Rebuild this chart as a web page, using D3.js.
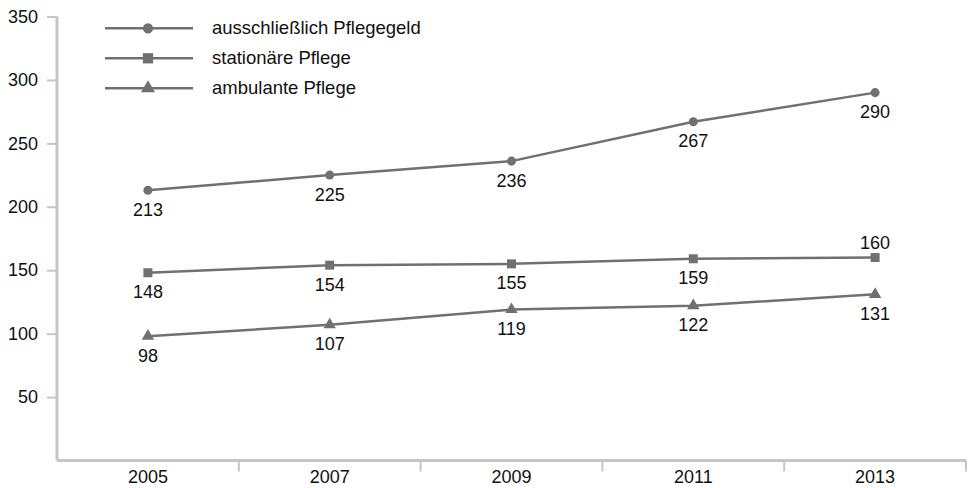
<!DOCTYPE html>
<html>
<head>
<meta charset="utf-8">
<script src="https://cdn.jsdelivr.net/npm/d3@7"></script>
<style>
  body { margin: 0; background: #fff; }
  text { font-family: "Liberation Sans", Arial, sans-serif; }
</style>
</head>
<body>
<svg width="973" height="488"></svg>
<script>
var years = ["2005", "2007", "2009", "2011", "2013"];
var seriesNames = ["ausschließlich Pflegegeld", "stationäre Pflege", "ambulante Pflege"];
var pflegegeld = [213, 225, 236, 267, 290];
var stationaer = [148, 154, 155, 159, 160];
var ambulant = [98, 107, 119, 122, 131];
var yTicks = [50, 100, 150, 200, 250, 300, 350];

var allSeries = [pflegegeld, stationaer, ambulant];
var symbols = [d3.symbolCircle, d3.symbolSquare, d3.symbolTriangle];
var symSizes = [64, 81, 66];
// labels above the point only for the last stationaer value
var above = [[0,0,0,0,0],[0,0,0,0,1],[0,0,0,0,0]];

var svg = d3.select("svg"),
    margin = {top: 16.5, right: 7, bottom: 27.5, left: 57},
    width = +svg.attr("width") - margin.left - margin.right,
    height = +svg.attr("height") - margin.top - margin.bottom;

var x = d3.scaleBand().domain(years).range([0, width]);
var y = d3.scaleLinear().domain([0, 350]).range([height, 0]);

var g = svg.append("g")
    .attr("transform", "translate(" + margin.left + "," + margin.top + ")");

var axisColor = "#c6c6c6";
var lineColor = "#707070";

// y axis
var yAxis = g.append("g").call(d3.axisLeft(y).tickValues(yTicks).tickSize(10).tickPadding(9));
yAxis.select(".domain").remove();
yAxis.selectAll(".tick line").attr("stroke", axisColor).attr("stroke-width", 2);
yAxis.selectAll(".tick text").attr("fill", "#111").style("font-size", "18px");
g.append("line")
    .attr("x1", 0).attr("x2", 0)
    .attr("y1", y(350)).attr("y2", height)
    .attr("stroke", axisColor).attr("stroke-width", 3);

// x axis
var xAxis = g.append("g")
    .attr("transform", "translate(0," + height + ")")
    .call(d3.axisBottom(x).tickSize(0).tickPadding(10));
xAxis.select(".domain").remove();
xAxis.selectAll(".tick text").attr("fill", "#111").style("font-size", "18px");
g.append("line")
    .attr("x1", 0).attr("x2", width)
    .attr("y1", height).attr("y2", height)
    .attr("stroke", axisColor).attr("stroke-width", 3);
var bounds = years.slice(1).map(function (d) { return x(d); }).concat([width]);
g.selectAll(".xsep")
    .data(bounds)
    .enter().append("line")
    .attr("x1", function (d) { return d; })
    .attr("x2", function (d) { return d; })
    .attr("y1", height).attr("y2", height + 11)
    .attr("stroke", axisColor).attr("stroke-width", 2);

function cx(i) { return x(years[i]) + x.bandwidth() / 2; }

var line = d3.line()
    .x(function (d, i) { return cx(i); })
    .y(function (d) { return y(d); });

allSeries.forEach(function (s, k) {
    g.append("path")
        .datum(s)
        .attr("fill", "none")
        .attr("stroke", lineColor)
        .attr("stroke-width", 2.5)
        .attr("d", line);

    g.selectAll(".pt" + k)
        .data(s)
        .enter().append("path")
        .attr("transform", function (d, i) { return "translate(" + cx(i) + "," + y(d) + ")"; })
        .attr("d", d3.symbol().type(symbols[k]).size(symSizes[k]))
        .attr("fill", lineColor);

    g.selectAll(".lbl" + k)
        .data(s)
        .enter().append("text")
        .attr("x", function (d, i) { return cx(i); })
        .attr("y", function (d, i) { return above[k][i] ? y(d) - 9 : y(d) + 25.5; })
        .attr("text-anchor", "middle")
        .attr("fill", "#111")
        .style("font-size", "18px")
        .text(function (d) { return d; });
});

// legend
var legend = svg.append("g");
seriesNames.forEach(function (name, k) {
    var ly = 28.3 + k * 30;
    legend.append("line")
        .attr("x1", 105).attr("x2", 193)
        .attr("y1", ly).attr("y2", ly)
        .attr("stroke", lineColor).attr("stroke-width", 2.5);
    legend.append("path")
        .attr("transform", "translate(148," + ly + ")")
        .attr("d", d3.symbol().type(symbols[k]).size(symSizes[k] * 1.3))
        .attr("fill", lineColor);
    legend.append("text")
        .attr("x", 212).attr("y", ly + 5.5)
        .attr("fill", "#111")
        .style("font-size", "18.5px")
        .text(name);
});
</script>
</body>
</html>
